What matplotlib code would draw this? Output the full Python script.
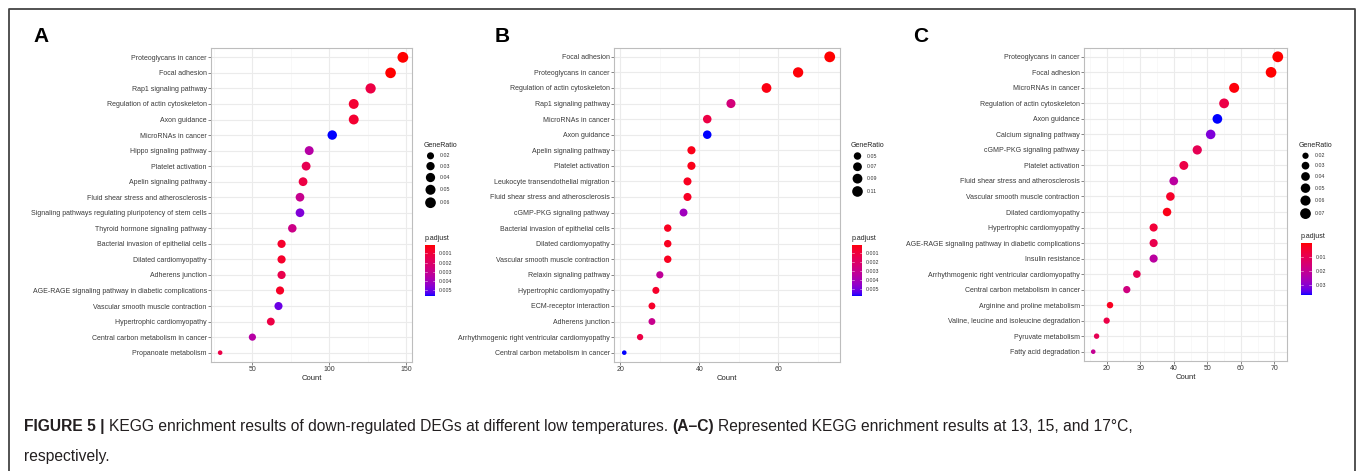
import numpy as np
import matplotlib
matplotlib.use('Agg')
import matplotlib.pyplot as plt
from matplotlib.colors import ListedColormap, Normalize
from matplotlib.ticker import MultipleLocator, AutoMinorLocator

plt.rcParams['font.family'] = ['Liberation Sans', 'DejaVu Sans']

# ---- данные ----
a_terms = ['Proteoglycans in cancer', 'Focal adhesion', 'Rap1 signaling pathway',
           'Regulation of actin cytoskeleton', 'Axon guidance', 'MicroRNAs in cancer',
           'Hippo signaling pathway', 'Platelet activation', 'Apelin signaling pathway',
           'Fluid shear stress and atherosclerosis',
           'Signaling pathways regulating pluripotency of stem cells',
           'Thyroid hormone signaling pathway', 'Bacterial invasion of epithelial cells',
           'Dilated cardiomyopathy', 'Adherens junction',
           'AGE-RAGE signaling pathway in diabetic complications',
           'Vascular smooth muscle contraction', 'Hypertrophic cardiomyopathy',
           'Central carbon metabolism in cancer', 'Propanoate metabolism']
a_count = [148, 140, 127, 116, 116, 102, 87, 85, 83, 81, 81, 76, 69, 69, 69, 68, 67, 62, 50, 29]
a_padj = [0.0001, 0.0001, 0.0012, 0.0008, 0.0008, 0.0056, 0.0035, 0.0015, 0.0012, 0.0030,
          0.0047, 0.0028, 0.0007, 0.0007, 0.0014, 0.0006, 0.0050, 0.0012, 0.0035, 0.0013]
a_total = 2400

b_terms = ['Focal adhesion', 'Proteoglycans in cancer', 'Regulation of actin cytoskeleton',
           'Rap1 signaling pathway', 'MicroRNAs in cancer', 'Axon guidance',
           'Apelin signaling pathway', 'Platelet activation',
           'Leukocyte transendothelial migration', 'Fluid shear stress and atherosclerosis',
           'cGMP-PKG signaling pathway', 'Bacterial invasion of epithelial cells',
           'Dilated cardiomyopathy', 'Vascular smooth muscle contraction',
           'Relaxin signaling pathway', 'Hypertrophic cardiomyopathy',
           'ECM-receptor interaction', 'Adherens junction',
           'Arrhythmogenic right ventricular cardiomyopathy',
           'Central carbon metabolism in cancer']
b_count = [73, 65, 57, 48, 42, 42, 38, 38, 37, 37, 36, 32, 32, 32, 30, 29, 28, 28, 25, 21]
b_padj = [0.00001, 0.0001, 0.0002, 0.0025, 0.0012, 0.0058, 0.0003, 0.0003, 0.0004, 0.0005,
          0.0042, 0.0004, 0.0004, 0.0004, 0.0033, 0.0006, 0.0006, 0.0030, 0.0012, 0.0058]
b_total = 640

c_terms = ['Proteoglycans in cancer', 'Focal adhesion', 'MicroRNAs in cancer',
           'Regulation of actin cytoskeleton', 'Axon guidance', 'Calcium signaling pathway',
           'cGMP-PKG signaling pathway', 'Platelet activation',
           'Fluid shear stress and atherosclerosis', 'Vascular smooth muscle contraction',
           'Dilated cardiomyopathy', 'Hypertrophic cardiomyopathy',
           'AGE-RAGE signaling pathway in diabetic complications', 'Insulin resistance',
           'Arrhythmogenic right ventricular cardiomyopathy',
           'Central carbon metabolism in cancer', 'Arginine and proline metabolism',
           'Valine, leucine and isoleucine degradation', 'Pyruvate metabolism',
           'Fatty acid degradation']
c_count = [71, 69, 58, 55, 53, 51, 47, 43, 40, 39, 38, 34, 34, 34, 29, 26, 21, 20, 17, 16]
c_padj = [0.0003, 0.0003, 0.001, 0.008, 0.0368, 0.031, 0.010, 0.008, 0.022, 0.004,
          0.002, 0.006, 0.009, 0.022, 0.010, 0.017, 0.003, 0.008, 0.010, 0.020]
c_total = 1000

a_size_breaks = [0.02, 0.03, 0.04, 0.05, 0.06]
b_size_breaks = [0.05, 0.07, 0.09, 0.11]
c_size_breaks = [0.02, 0.03, 0.04, 0.05, 0.06, 0.07]
a_cbar_ticks = [0.001, 0.002, 0.003, 0.004, 0.005]
b_cbar_ticks = [0.001, 0.002, 0.003, 0.004, 0.005]
c_cbar_ticks = [0.01, 0.02, 0.03]

caption_1 = [('FIGURE 5 |', 'bold'),
             ('KEGG enrichment results of down-regulated DEGs at different low temperatures.', 'normal'),
             ('(A–C)', 'bold'),
             ('Represented KEGG enrichment results at 13, 15, and 17°C,', 'normal')]
caption_2 = 'respectively.'

W, H = 1357, 471
DPI = 100
D_MIN, D_MAX = 4.6, 10.8   # диаметр точек в пикселях


# градиент red -> blue в пространстве Lab, как в ggplot
def srgb_to_lab(rgb):
    c = np.array(rgb, dtype=float)
    lin = np.where(c <= 0.04045, c / 12.92, ((c + 0.055) / 1.055) ** 2.4)
    m = np.array([[0.4124, 0.3576, 0.1805], [0.2126, 0.7152, 0.0722], [0.0193, 0.1192, 0.9505]])
    xyz = m @ lin / np.array([0.95047, 1.0, 1.08883])
    f = np.where(xyz > 0.008856, np.cbrt(xyz), 7.787 * xyz + 16 / 116)
    return np.array([116 * f[1] - 16, 500 * (f[0] - f[1]), 200 * (f[1] - f[2])])


def lab_to_srgb(lab):
    L, a, b = lab
    fy = (L + 16) / 116
    fx = fy + a / 500
    fz = fy - b / 200
    f = np.array([fx, fy, fz])
    xyz = np.where(f ** 3 > 0.008856, f ** 3, (f - 16 / 116) / 7.787) * np.array([0.95047, 1.0, 1.08883])
    m = np.array([[3.2406, -1.5372, -0.4986], [-0.9689, 1.8758, 0.0415], [0.0557, -0.2040, 1.0570]])
    lin = np.clip(m @ xyz, 0, 1)
    c = np.where(lin <= 0.0031308, 12.92 * lin, 1.055 * lin ** (1 / 2.4) - 0.055)
    return np.clip(c, 0, 1)


lab_r = srgb_to_lab([1, 0, 0])
lab_b = srgb_to_lab([0, 0, 1])
cmap = ListedColormap([lab_to_srgb(lab_r + (lab_b - lab_r) * t) for t in np.linspace(0, 1, 256)])


def diam(r, rmin, rmax):
    return D_MIN + (D_MAX - D_MIN) * np.sqrt(np.clip((np.asarray(r) - rmin) / (rmax - rmin), 0, 1))


def to_s(d_px):
    return (np.asarray(d_px) * 72 / DPI) ** 2


fig = plt.figure(figsize=(W / DPI, H / DPI), dpi=DPI)
ov = fig.add_axes([0, 0, 1, 1])
ov.set_xlim(0, W)
ov.set_ylim(H, 0)
ov.axis('off')


def ax_rect(l, t, r, b):
    return [l / W, 1 - b / H, (r - l) / W, (b - t) / H]


def draw_panel(letter, letter_x, rect, terms, counts, padj, total, major, size_breaks,
               cbar_ticks, leg_x, cbar_rect):
    ratio = np.array(counts) / total
    rmin, rmax = ratio.min(), ratio.max()
    norm = Normalize(min(padj), max(padj))
    n = len(terms)
    y = np.arange(n)[::-1]

    ax = fig.add_axes(ax_rect(*rect))
    ax.scatter(counts, y, s=to_s(diam(ratio, rmin, rmax)), c=padj, cmap=cmap, norm=norm,
               linewidths=0, zorder=3)
    ax.margins(x=0.05)
    ax.set_ylim(-0.6, n - 0.4)
    ax.set_yticks(y)
    ax.set_yticklabels(terms)
    ax.xaxis.set_major_locator(MultipleLocator(major))
    ax.xaxis.set_minor_locator(AutoMinorLocator(2))
    ax.grid(True, which='major', color='#EBEBEB', lw=0.8, zorder=0)
    ax.grid(True, which='minor', axis='x', color='#F5F5F5', lw=0.5, zorder=0)
    ax.set_axisbelow(True)
    for sp in ax.spines.values():
        sp.set_color('#BDBDBD')
        sp.set_linewidth(0.8)
    ax.tick_params(axis='both', which='major', labelsize=5, labelcolor='#3A3A3A',
                   color='#555555', length=2, width=0.5, pad=1)
    ax.tick_params(axis='x', which='minor', length=0)
    ax.set_xlabel('Count', fontsize=5.5, color='#222222', labelpad=1)

    # буква панели
    ov.text(letter_x, 36, letter, fontsize=15, fontweight='bold', va='center', ha='left')

    # легенда GeneRatio
    ov.text(leg_x, 145.5, 'GeneRatio', fontsize=5, va='center', ha='left', color='#222222')
    ds = diam(size_breaks, rmin, rmax)
    heights = np.maximum(ds + 2.6, 9.5)
    yy = 151 + np.cumsum(heights) - heights / 2
    ov.scatter(np.full(len(ds), leg_x + 6.5), yy, s=to_s(ds), c='black', linewidths=0)
    for v, yv in zip(size_breaks, yy):
        ov.text(leg_x + 16, yv, '%.2f' % v, fontsize=3.8, va='center', ha='left', color='#333333')

    # легенда p.adjust (цветовая шкала)
    cl, ct, cr, cb = cbar_rect
    ov.text(cl, ct - 6.5, 'p.adjust', fontsize=5, va='center', ha='left', color='#222222')
    cax = fig.add_axes(ax_rect(*cbar_rect))
    grad = np.linspace(norm.vmin, norm.vmax, 200).reshape(-1, 1)
    cax.imshow(grad, cmap=cmap, norm=norm, aspect='auto',
               extent=[0, 1, norm.vmax, norm.vmin], origin='upper')
    cax.set_xlim(0, 1)
    cax.set_ylim(norm.vmax, norm.vmin)
    for t in cbar_ticks:
        cax.plot([0, 0.2], [t, t], color='white', lw=0.4, alpha=0.8)
        cax.plot([0.8, 1], [t, t], color='white', lw=0.4, alpha=0.8)
    cax.set_xticks([])
    cax.set_yticks(cbar_ticks)
    cax.set_yticklabels(['%g' % t for t in cbar_ticks])
    cax.yaxis.tick_right()
    cax.tick_params(axis='y', length=0, labelsize=3.8, labelcolor='#333333', pad=3)
    for sp in cax.spines.values():
        sp.set_visible(False)
    return ax


draw_panel('A', 33, (211, 48, 412, 362), a_terms, a_count, a_padj, a_total, 50,
           a_size_breaks, a_cbar_ticks, 424, (425, 245, 435, 296))
draw_panel('B', 495, (614, 47.5, 840, 362), b_terms, b_count, b_padj, b_total, 20,
           b_size_breaks, b_cbar_ticks, 851, (852, 244.5, 862, 296.5))
draw_panel('C', 913, (1084, 47.5, 1287, 361), c_terms, c_count, c_padj, c_total, 10,
           c_size_breaks, c_cbar_ticks, 1299, (1301, 243, 1311.5, 295))

# рамка
ov.plot([8.5, 8.5, 1354.5, 1354.5], [H + 5, 8.5, 8.5, H + 5], color='#444444', lw=1.3,
        clip_on=False)

# подпись к рисунку
cap_fs = 11.25
renderer = fig.canvas.get_renderer()
x = 24
space = 0.28 * cap_fs * DPI / 72
for txt, wt in caption_1:
    t = ov.text(x, 427, txt, fontsize=cap_fs, fontweight=wt, va='center', ha='left',
                color='#231F20')
    bb = t.get_window_extent(renderer)
    x += bb.width + space
ov.text(24, 457, caption_2, fontsize=cap_fs, va='center', ha='left', color='#231F20')

fig.savefig('out.png', dpi=DPI)
